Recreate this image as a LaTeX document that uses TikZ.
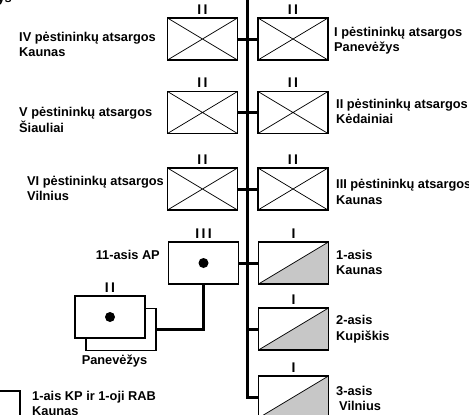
\documentclass[tikz,border=0pt]{standalone}
\usepackage{fontspec}
\setmainfont{Liberation Sans}
\usetikzlibrary{positioning}
\definecolor{fillgrey}{gray}{0.78}
\tikzset{
  unit/.style = {rectangle, draw=black, line width=1.1pt, fill=white,
    minimum width=70pt, minimum height=42pt, inner sep=0pt},% ramka
  inf/.style = {unit, path picture={
      \draw[line width=0.7pt] (path picture bounding box.south west) -- (path picture bounding box.north east)
        (path picture bounding box.north west) -- (path picture bounding box.south east);}},% pestininkai
  rez/.style = {unit, path picture={
      \fill[fillgrey] (path picture bounding box.south west) -- (path picture bounding box.north east)
        -- (path picture bounding box.south east) -- cycle;
      \draw[line width=0.7pt] (path picture bounding box.south west) -- (path picture bounding box.north east);}},% rezervas
  art/.style = {unit},% artilerija
  dot/.style = {circle, fill=black, inner sep=0pt, minimum size=10pt},
  ech/.style = {inner sep=0pt, font=\fontsize{14}{14}\selectfont\bfseries},% dydis
  txt/.style = {align=left, inner sep=0pt, font=\fontsize{12.8}{15.5}\selectfont\bfseries},
  bus/.style = {line width=3pt}
}
\begin{document}
\begin{tikzpicture}[x=1pt, y=-1pt]
\useasboundingbox (0,0) rectangle (469,415);
\clip (0,0) rectangle (469,415);
\coordinate (top) at (247,-5);
% pestininku batalionai
\node [inf] (iv) at (202.5,39) {};
\node [inf] (v) at (202.5,112.5) {};
\node [inf] (vi) at (202.5,189) {};
\node [inf] (i) at (293,39) {};
\node [inf] (ii) at (293,112.5) {};
\node [inf] (iii) at (293,189) {};
\node [ech, above=3pt of iv] (iv-e) {I\,I};
\node [ech, above=3pt of v] (v-e) {I\,I};
\node [ech, above=3pt of vi] (vi-e) {I\,I};
\node [ech, above=3pt of i] (i-e) {I\,I};
\node [ech, above=3pt of ii] (ii-e) {I\,I};
\node [ech, above=3pt of iii] (iii-e) {I\,I};
% artilerija
\node [art] (ap) at (203.5,263) {};
\node [dot] (ap-d) at (ap) {};
\node [ech, above=3pt of ap] (ap-e) {I\,I\,I};
\node [art] (pvb) at (121,329.5) {};
\node [art] (pv) at (110,317) {};
\node [dot] (pv-d) at (pv) {};
\node [ech, above=3pt of pv] (pv-e) {I\,I};
\node [art] (kp) at (-15,412) {};
% rezervas
\node [rez] (k1) at (293.5,263) {};
\node [rez] (k2) at (293.5,329) {};
\node [rez] (k3) at (293.5,397) {};
\node [ech, above=3pt of k1] (k1-e) {I};
\node [ech, above=3pt of k2] (k2-e) {I};
\node [ech, above=3pt of k3] (k3-e) {I};
% jungtys
\draw [bus] (top) |- (k3.west);
\draw [bus] (iv.east) -- (i.west);
\draw [bus] (v.east) -- (ii.west);
\draw [bus] (vi.east) -- (iii.west);
\draw [bus] (ap.east) -- (k1.west);
\draw [bus] (k2.west) -- (k2.west -| top);
\draw [bus] (pvb.east) -| (ap.south);
% uzrasai
\node [txt, anchor=base east] (pv-top) at (12,2) {Panevėžys};
\node [txt, anchor=west] (iv-t) at (19,44.5) {IV pėstininkų atsargos\\Kaunas};
\node [txt, anchor=west] (v-t) at (19,120) {V pėstininkų atsargos\\Šiauliai};
\node [txt, anchor=west] (vi-t) at (27,188.5) {VI pėstininkų atsargos\\Vilnius};
\node [txt, anchor=west] (i-t) at (334,40.5) {I pėstininkų atsargos\\Panevėžys};
\node [txt, anchor=west] (ii-t) at (336,111.5) {II pėstininkų atsargos\\Kėdainiai};
\node [txt, anchor=west] (iii-t) at (336,192) {III pėstininkų atsargos\\Kaunas};
\node [txt, anchor=east] (ap-t) at (160,255) {11-asis AP};
\node [txt, below=4pt of pvb, xshift=-6.5pt] (pv-t) {Panevėžys};
\node [txt, anchor=north west] (kp-t) at (32,391) {1-ais KP ir 1-oji RAB\\Kaunas};
\node [txt, anchor=west] (k1-t) at (336,262.5) {1-asis\\Kaunas};
\node [txt, anchor=west] (k2-t) at (336,329) {2-asis\\Kupiškis};
\node [txt, anchor=west] (k3-t) at (336,398.5) {3-asis\\\hspace{3pt}Vilnius};
\end{tikzpicture}
\end{document}
